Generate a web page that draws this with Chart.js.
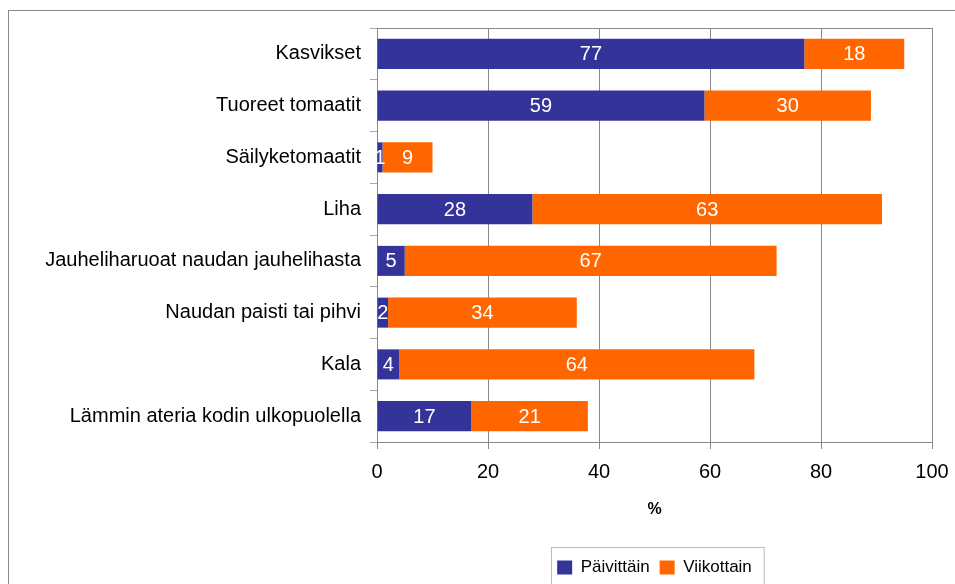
<!DOCTYPE html>
<html>
<head>
<meta charset="utf-8">
<script src="https://cdn.jsdelivr.net/npm/chart.js@4.4.1/dist/chart.umd.min.js"></script>
<style>
  html, body { margin: 0; padding: 0; background: #fff; }
  #wrap { width: 955px; height: 584px; }
</style>
</head>
<body>
<div id="wrap"><canvas id="chart" width="955" height="584"></canvas></div>
<script>
// chart data
const categories = [
  'Kasvikset',
  'Tuoreet tomaatit',
  'Säilyketomaatit',
  'Liha',
  'Jauheliharuoat naudan jauhelihasta',
  'Naudan paisti tai pihvi',
  'Kala',
  'Lämmin ateria kodin ulkopuolella'
];
const daily = [77, 59, 1, 28, 5, 2, 4, 17];
const weekly = [18, 30, 9, 63, 67, 34, 64, 21];
const xTicks = [0, 20, 40, 60, 80, 100];

const gray = '#888888';
const font = 'Liberation Sans, Arial, sans-serif';
const bottomPad = -2;
const legendH = 37; // legend height for 17px font + 10px padding

// outer frame, plot border, legend box, value labels
const framePlugin = {
  id: 'frames',
  beforeDraw(chart) {
    const ctx = chart.ctx;
    ctx.save();
    ctx.strokeStyle = gray;
    ctx.lineWidth = 1;
    ctx.strokeRect(8.5, 10.5, 2000, 2000);
    ctx.restore();
  },
  afterDraw(chart) {
    const ctx = chart.ctx;
    const a = chart.chartArea;
    ctx.save();
    ctx.strokeStyle = gray;
    ctx.lineWidth = 1;
    ctx.beginPath();
    ctx.moveTo(a.left, Math.round(a.top) + 0.5);
    ctx.lineTo(Math.round(a.right) + 0.5, Math.round(a.top) + 0.5);
    ctx.lineTo(Math.round(a.right) + 0.5, a.bottom);
    ctx.stroke();
    // legend border
    const boxes = chart.legend.legendHitBoxes;
    if (boxes && boxes.length) {
      const l = Math.min(...boxes.map(b => b.left)) - 6;
      const r = Math.max(...boxes.map(b => b.left + b.width)) + 12;
      const t = Math.min(...boxes.map(b => b.top)) - 12;
      ctx.strokeStyle = '#bbbbbb';
      ctx.strokeRect(Math.round(l) + 0.5, Math.round(t) + 0.5, r - l, 200);
    }
    ctx.restore();
  },
  afterDatasetsDraw(chart) {
    const ctx = chart.ctx;
    ctx.save();
    ctx.fillStyle = '#ffffff';
    ctx.font = '20px ' + font;
    ctx.textAlign = 'center';
    ctx.textBaseline = 'middle';
    chart.data.datasets.forEach((ds, i) => {
      chart.getDatasetMeta(i).data.forEach((bar, j) => {
        const cx = (bar.x + bar.base) / 2;
        ctx.fillText(String(ds.data[j]), cx, bar.y + 1);
      });
    });
    ctx.restore();
  }
};

new Chart(document.getElementById('chart'), {
  type: 'bar',
  data: {
    labels: categories,
    datasets: [
      { label: 'Päivittäin', data: daily, backgroundColor: '#333399', barPercentage: 0.58, categoryPercentage: 1 },
      { label: 'Viikottain', data: weekly, backgroundColor: '#ff6600', barPercentage: 0.58, categoryPercentage: 1 }
    ]
  },
  options: {
    indexAxis: 'y',
    responsive: false,
    animation: false,
    layout: { padding: { left: 0, top: 28, right: 23, bottom: bottomPad } },
    scales: {
      x: {
        stacked: true,
        min: 0,
        max: 100,
        afterBuildTicks(scale) { scale.ticks = xTicks.map(v => ({ value: v })); },
        afterFit(scale) {
          scale.height = 584 - bottomPad - legendH - 442;
          scale.paddingLeft = 0;
          scale.paddingRight = 0;
        },
        grid: { color: gray, tickLength: 7, tickColor: gray },
        border: { color: gray },
        ticks: { color: '#000', font: { family: font, size: 20 }, padding: 11, maxRotation: 0 },
        title: { display: true, text: '%', color: '#000', font: { family: font, size: 16, weight: 'bold' }, padding: { top: 4, bottom: 30 } }
      },
      y: {
        stacked: true,
        afterFit(scale) { scale.width = 377; },
        grid: { drawOnChartArea: false, tickLength: 7, color: '#aaaaaa' },
        border: { color: gray },
        ticks: { color: '#000', font: { family: font, size: 20 }, padding: 9 }
      }
    },
    plugins: {
      legend: {
        position: 'bottom',
        fullSize: false,
        labels: {
          color: '#000',
          font: { family: font, size: 17 },
          boxWidth: 15,
          boxHeight: 14,
          padding: 10
        }
      },
      tooltip: { enabled: false }
    }
  },
  plugins: [framePlugin]
});
</script>
</body>
</html>
